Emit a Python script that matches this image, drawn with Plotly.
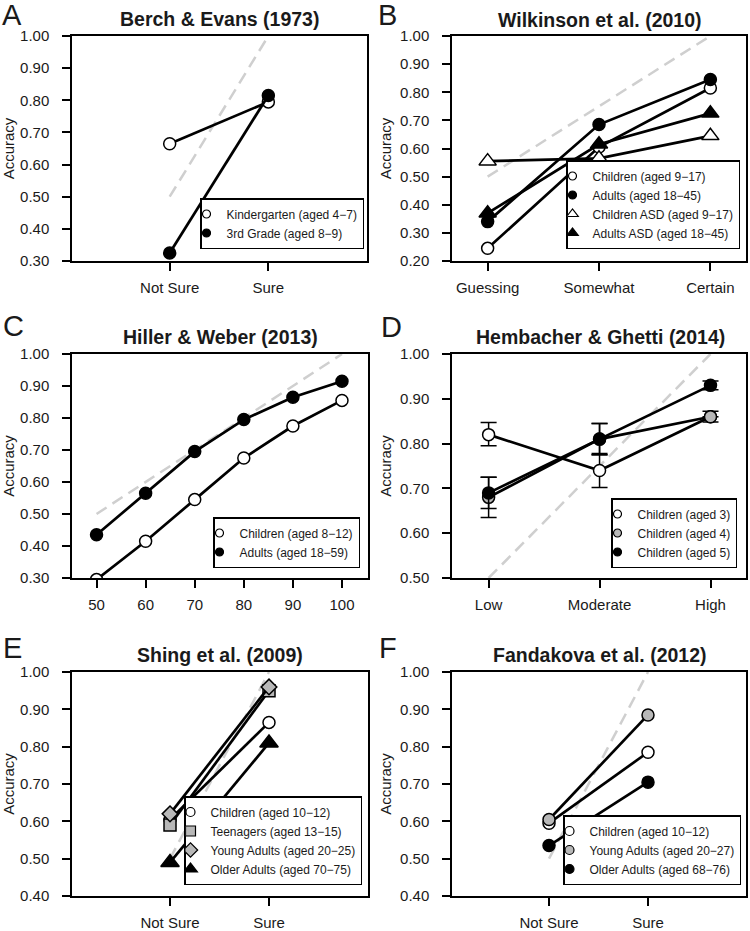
import plotly.graph_objects as go

# ---------------- data ----------------
# Panel A: Berch & Evans (1973)
A_cats = ["Not Sure", "Sure"]
A_kindergarten = [0.665, 0.795]
A_third_grade = [0.325, 0.815]

# Panel B: Wilkinson et al. (2010)
B_cats = ["Guessing", "Somewhat", "Certain"]
B_children = [0.245, 0.605, 0.815]
B_adults = [0.34, 0.685, 0.845]
B_children_asd = [0.555, 0.565, 0.645]
B_adults_asd = [0.37, 0.615, 0.725]

# Panel C: Hiller & Weber (2013)
C_conf = [50, 60, 70, 80, 90, 100]
C_children = [0.295, 0.415, 0.545, 0.675, 0.775, 0.855]
C_adults = [0.435, 0.565, 0.695, 0.795, 0.865, 0.915]

# Panel D: Hembacher & Ghetti (2014)
D_cats = ["Low", "Moderate", "High"]
D_age3 = [0.82, 0.74, 0.86]
D_age3_err_plus = [0.027, 0.038, 0.0]
D_age3_err_minus = [0.025, 0.038, 0.0]
D_age4 = [0.68, 0.81, 0.86]
D_age4_err = [0.045, 0.035, 0.012]
D_age5 = [0.69, 0.81, 0.93]
D_age5_err = [0.035, 0.035, 0.01]

# Panel E: Shing et al. (2009)
E_cats = ["Not Sure", "Sure"]
E_children = [0.605, 0.865]
E_teenagers = [0.59, 0.95]
E_young = [0.62, 0.96]
E_older = [0.49, 0.81]

# Panel F: Fandakova et al. (2012)
F_cats = ["Not Sure", "Sure"]
F_children = [0.595, 0.785]
F_young = [0.605, 0.885]
F_older = [0.535, 0.705]

# perfect-calibration reference lines
REF_2_x, REF_2_y = [1, 2], [0.5, 1.0]
REF_3_x, REF_3_y = [1, 3], [0.5, 1.0]
REF_C_x, REF_C_y = [50, 100], [0.5, 1.0]

FONT = "Liberation Sans, Arial, sans-serif"
W, H = 750, 931
GRAY = "#b8b8b8"

fig = go.Figure()


def add_ref(ax, x, y):
    fig.add_trace(go.Scatter(x=x, y=y, mode="lines", showlegend=False, hoverinfo="skip",
                             line=dict(color="#cfcfcf", width=2.5, dash="12px,7px"),
                             xaxis="x" + ax, yaxis="y" + ax))


def add_series(ax, x, y, name, symbol, fill, size, leg, leg_size, err_plus=None, err_minus=None):
    err = None
    if err_plus is not None:
        err = dict(type="data", symmetric=False, array=err_plus,
                   arrayminus=err_minus if err_minus is not None else err_plus,
                   color="black", thickness=1.5, width=8)
    fig.add_trace(go.Scatter(x=x, y=y, mode="lines+markers", showlegend=False, name=name,
                             line=dict(color="black", width=2.7),
                             marker=dict(symbol=symbol, color=fill, size=size,
                                         line=dict(color="black", width=1.5)),
                             error_y=err, xaxis="x" + ax, yaxis="y" + ax))
    fig.add_trace(go.Scatter(x=[None], y=[None], mode="markers", name=name, legend=leg,
                             marker=dict(symbol=symbol, color=fill, size=leg_size,
                                         line=dict(color="black", width=1.2)),
                             xaxis="x" + ax, yaxis="y" + ax))


# A
add_ref("", REF_2_x, REF_2_y)
add_series("", [1, 2], A_kindergarten, "Kindergarten (aged 4\u22127)", "circle", "white", 12, "legend", 8)
add_series("", [1, 2], A_third_grade, "3rd Grade (aged 8\u22129)", "circle", "black", 12, "legend", 8)
# B
add_ref("2", REF_3_x, REF_3_y)
add_series("2", [1, 2, 3], B_children, "Children (aged 9\u221217)", "circle", "white", 12, "legend2", 8)
add_series("2", [1, 2, 3], B_adults, "Adults (aged 18\u221245)", "circle", "black", 12, "legend2", 8)
add_series("2", [1, 2, 3], B_children_asd, "Children ASD (aged 9\u221217)", "triangle-up", "white", 15, "legend2", 10)
add_series("2", [1, 2, 3], B_adults_asd, "Adults ASD (aged 18\u221245)", "triangle-up", "black", 15, "legend2", 10)
# C
add_ref("3", REF_C_x, REF_C_y)
add_series("3", C_conf, C_children, "Children (aged 8\u221212)", "circle", "white", 12, "legend3", 8)
add_series("3", C_conf, C_adults, "Adults (aged 18\u221259)", "circle", "black", 12, "legend3", 8)
# D
add_ref("4", REF_3_x, REF_3_y)
add_series("4", [1, 2, 3], D_age3, "Children (aged 3)", "circle", "white", 12, "legend4", 8,
           D_age3_err_plus, D_age3_err_minus)
add_series("4", [1, 2, 3], D_age4, "Children (aged 4)", "circle", GRAY, 12, "legend4", 8, D_age4_err)
add_series("4", [1, 2, 3], D_age5, "Children (aged 5)", "circle", "black", 12, "legend4", 8, D_age5_err)
# E
add_ref("5", REF_2_x, REF_2_y)
add_series("5", [1, 2], E_children, "Children (aged 10\u221212)", "circle", "white", 12, "legend5", 9)
add_series("5", [1, 2], E_teenagers, "Teenagers (aged 13\u221215)", "square", GRAY, 12, "legend5", 10)
add_series("5", [1, 2], E_young, "Young Adults (aged 20\u221225)", "diamond", GRAY, 12, "legend5", 11)
add_series("5", [1, 2], E_older, "Older Adults (aged 70\u221275)", "triangle-up", "black", 16, "legend5", 12)
# F
add_ref("6", REF_2_x, REF_2_y)
add_series("6", [1, 2], F_children, "Children (aged 10\u221212)", "circle", "white", 12, "legend6", 9)
add_series("6", [1, 2], F_young, "Young Adults (aged 20\u221227)", "circle", GRAY, 12, "legend6", 9)
add_series("6", [1, 2], F_older, "Older Adults (aged 68\u221276)", "circle", "black", 12, "legend6", 9)

# --------------- layout ---------------
# frames in pixels: (left, right, top, bottom)
frames = {
    "": (72, 367, 36, 261),
    "2": (452, 746, 36, 261),
    "3": (72, 368, 354, 578),
    "4": (452, 746, 354, 578),
    "5": (72, 368, 672, 896),
    "6": (452, 746, 672, 896),
}
xranges = {"": [0.01, 3.0], "2": [0.68, 3.32], "3": [45, 105.3],
           "4": [0.67, 3.32], "5": [0.01, 3.0], "6": [0.02, 2.99]}
yranges = {"": [0.3, 1.0], "2": [0.2, 1.0], "3": [0.3, 1.0],
           "4": [0.5, 1.0], "5": [0.4, 1.0], "6": [0.4, 1.0]}
xticks = {"": ([1, 2], A_cats), "2": ([1, 2, 3], B_cats), "3": (C_conf, [str(v) for v in C_conf]),
          "4": ([1, 2, 3], D_cats), "5": ([1, 2], E_cats), "6": ([1, 2], F_cats)}

common = dict(showline=True, mirror=True, linecolor="black", linewidth=1.5, ticks="outside",
              ticklen=8, tickwidth=1.5, tickcolor="black", showgrid=False, zeroline=False,
              automargin=False,
              tickfont=dict(family=FONT, size=15, color="#1a1a1a"))

lay = dict(width=W, height=H, margin=dict(l=0, r=0, t=0, b=0, autoexpand=False),
           paper_bgcolor="white", plot_bgcolor="white", font=dict(family=FONT, color="#1a1a1a"))

for ax, (l, r, t, b) in frames.items():
    lay["xaxis" + ax] = dict(common, domain=[l / W, r / W], range=xranges[ax],
                             anchor="y" + ax, tickvals=xticks[ax][0], ticktext=xticks[ax][1],
                             ticklabelstandoff=4)
    lay["yaxis" + ax] = dict(common, domain=[1 - b / H, 1 - t / H], range=yranges[ax],
                             anchor="x" + ax, dtick=0.1, tick0=0, tickformat=".2f",
                             ticklabelstandoff=10,
                             title=dict(text="Accuracy", font=dict(family=FONT, size=15), standoff=5))

legend_pos = {"legend": (364, 249), "legend2": (740, 249), "legend3": (360, 568),
              "legend4": (737, 568), "legend5": (362, 885), "legend6": (741, 885)}
for name, (px, py) in legend_pos.items():
    lay[name] = dict(x=px / W, y=1 - py / H, xanchor="right", yanchor="bottom",
                     bordercolor="black", borderwidth=1.5, bgcolor="white",
                     font=dict(family=FONT, size=12, color="#1a1a1a"), itemwidth=30,
                     indentation=-15, tracegroupgap=0, traceorder="normal")

fig.update_layout(**lay)

titles = [("Berch & Evans (1973)", 219.5, 19), ("Wilkinson et al. (2010)", 600, 20),
          ("Hiller & Weber (2013)", 220, 337), ("Hembacher & Ghetti (2014)", 600, 337),
          ("Shing et al. (2009)", 220, 655), ("Fandakova et al. (2012)", 600, 655)]
for txt, cx, cy in titles:
    fig.add_annotation(text="<b>" + txt + "</b>", x=cx / W, y=1 - cy / H, xref="paper", yref="paper",
                       xanchor="center", yanchor="middle", showarrow=False,
                       font=dict(family=FONT, size=19.5, color="#1a1a1a"))

letters = [("A", 0, 15), ("B", 376, 15), ("C", 1, 326), ("D", 379, 327), ("E", 1, 648), ("F", 377, 648)]
for txt, lx, ly in letters:
    fig.add_annotation(text=txt, x=lx / W, y=1 - ly / H, xref="paper", yref="paper",
                       xanchor="left", yanchor="middle", showarrow=False,
                       font=dict(family=FONT, size=29, color="#1a1a1a"))

# the page body has a default 8px margin; remove it so the figure sits at the window origin
fig.write_html("out.html", config={"displayModeBar": False},
               post_script="document.body.style.margin='0';")
